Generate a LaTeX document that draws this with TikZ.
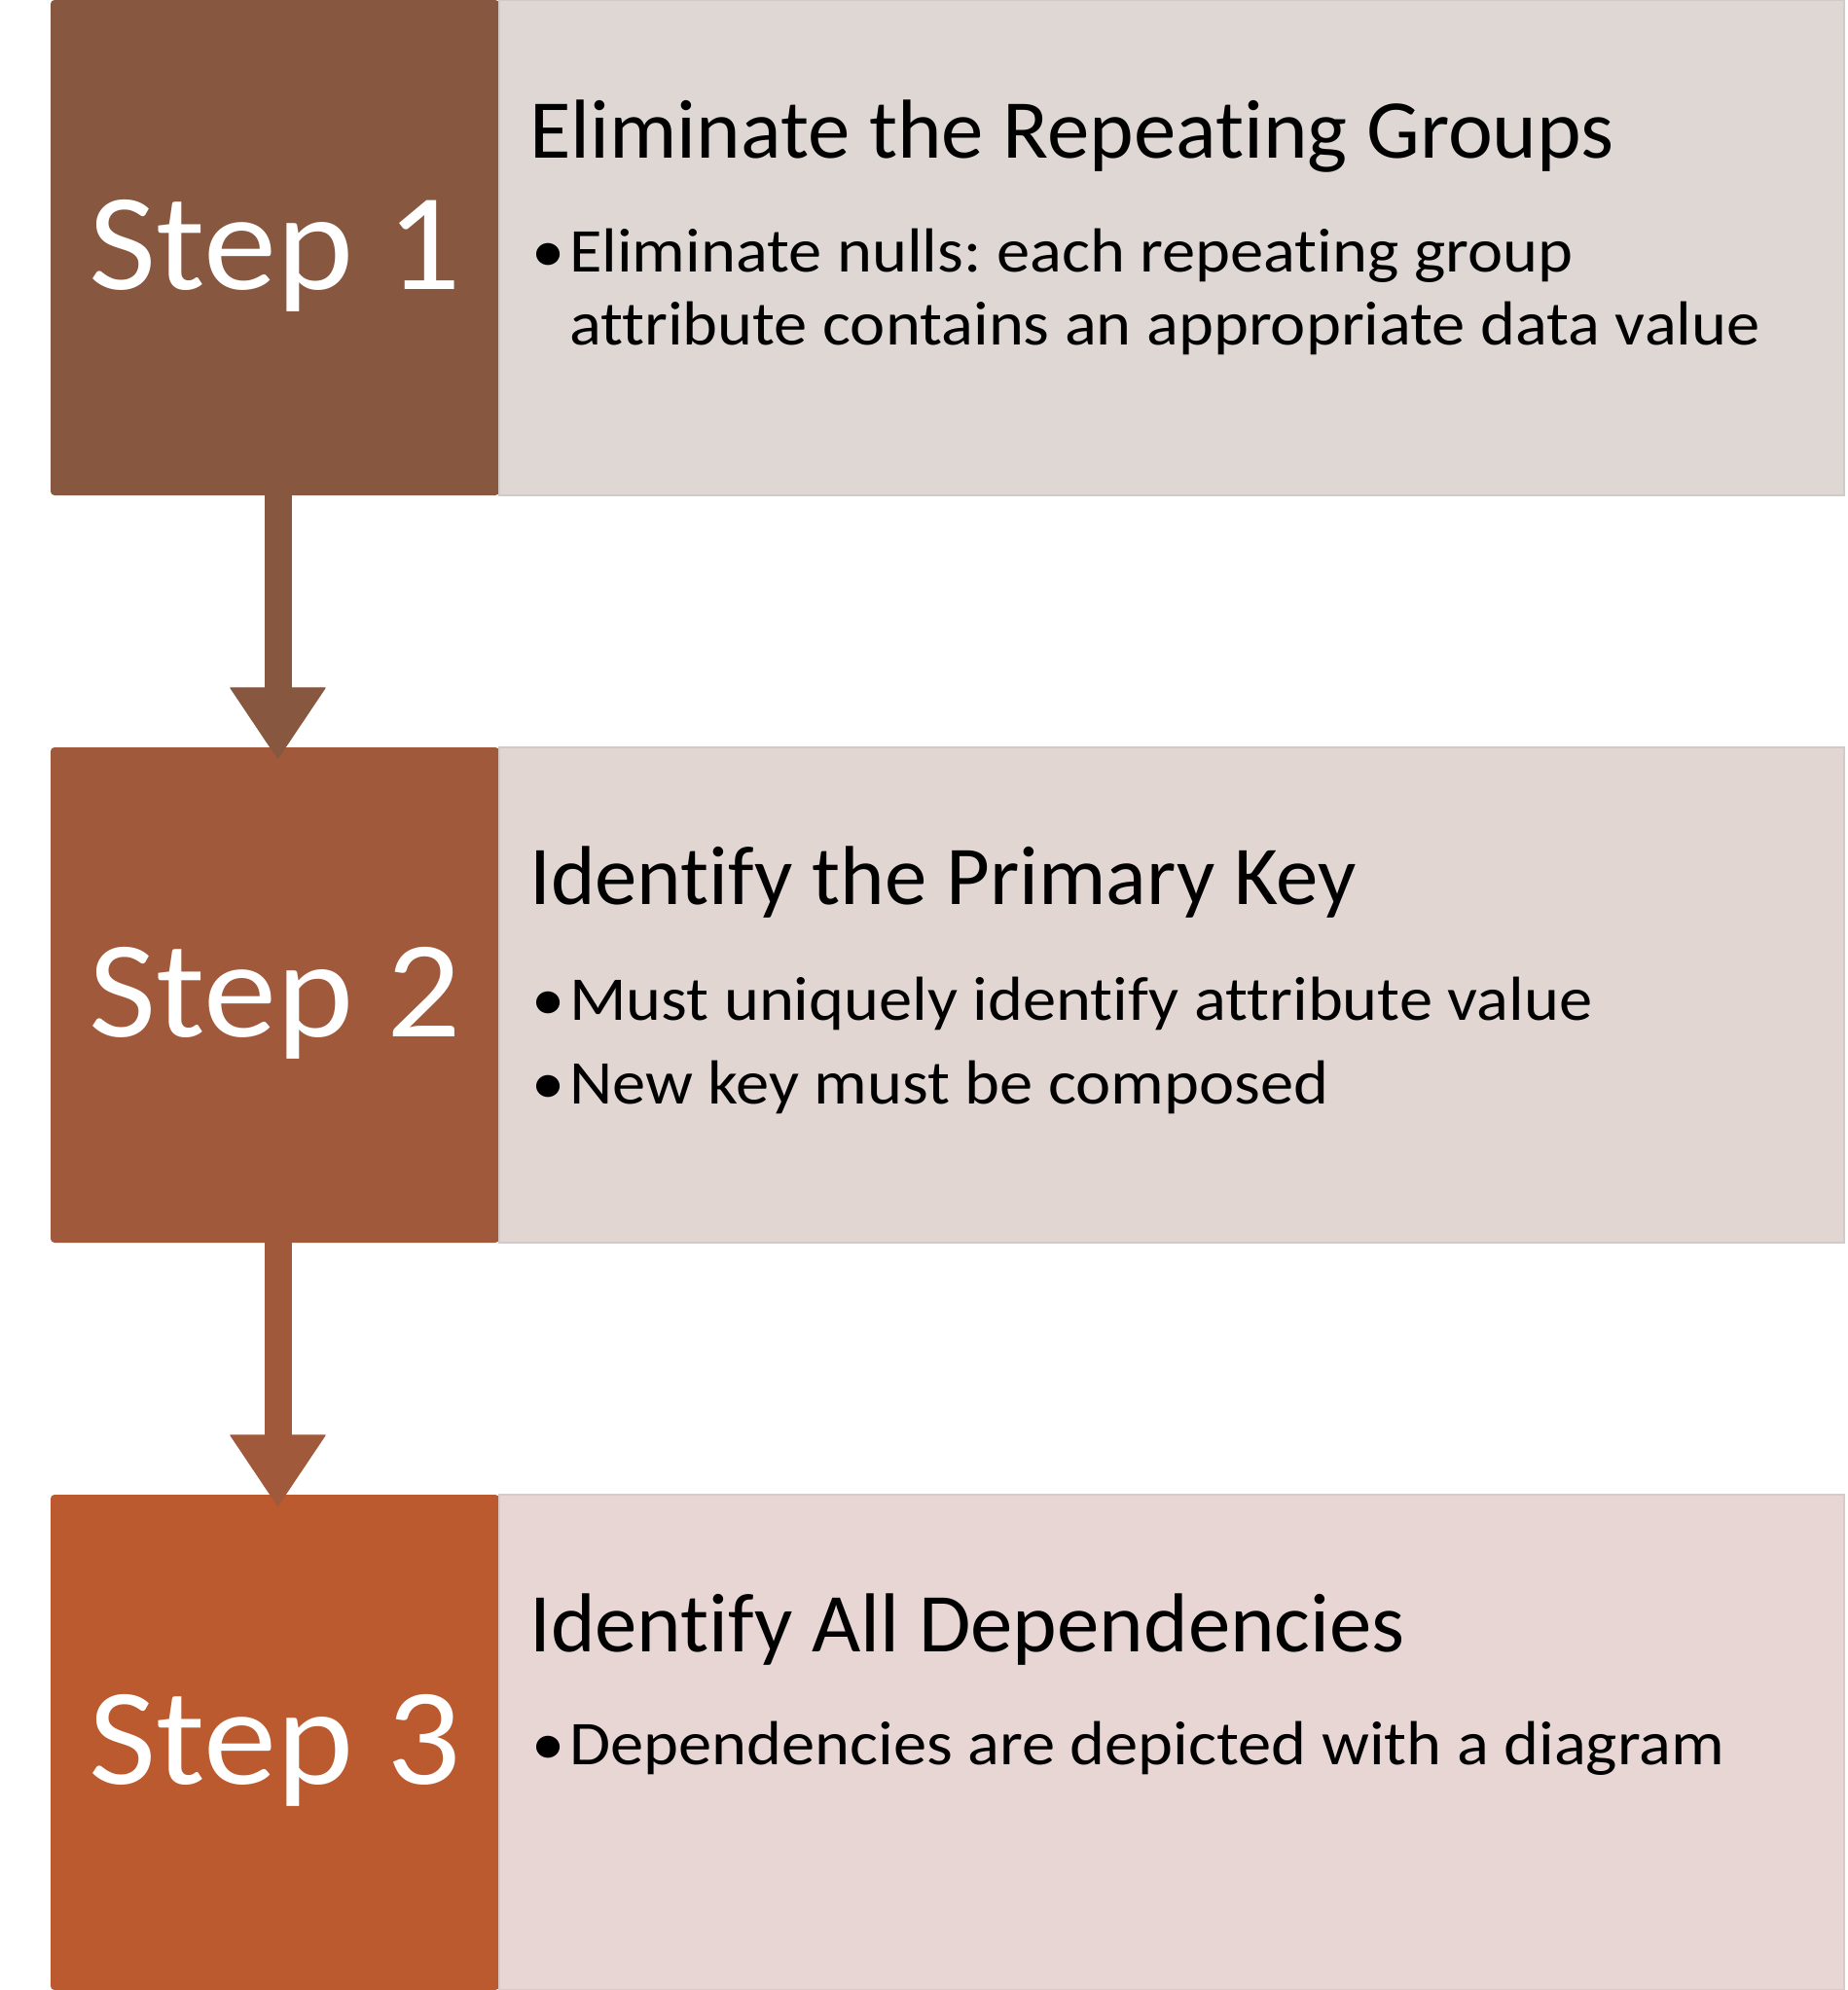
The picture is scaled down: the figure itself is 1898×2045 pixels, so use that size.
\documentclass[tikz,border=0pt]{standalone}
\usepackage{fontspec}
\setmainfont[Ligatures=NoCommon]{Carlito}
\newfontfamily\stepfont[Ligatures=NoCommon,FakeStretch=1.06]{Carlito}
\newfontfamily\titlefont[Ligatures=NoCommon,FakeStretch=1.01]{Carlito}
\newfontfamily\bulletfont[Ligatures=NoCommon,FakeStretch=1.07]{Carlito}
\usetikzlibrary{arrows.meta,calc}
\definecolor{stepA}{HTML}{87573F}
\definecolor{stepB}{HTML}{A0593A}
\definecolor{stepC}{HTML}{BB5A2F}
\definecolor{panelA}{HTML}{DED7D4}
\definecolor{panelB}{HTML}{E2D6D3}
\definecolor{panelC}{HTML}{E8D6D4}
\tikzset{
  stepbox/.style={rectangle, rounded corners=4pt, minimum width=461pt, minimum height=509pt, inner sep=0pt, outer sep=0pt},
  panelbox/.style={rectangle, minimum width=1382pt, minimum height=509pt, inner sep=0pt, outer sep=0pt, line width=1.5pt},
  steptext/.style={anchor=base, text=white, inner sep=0pt, font=\stepfont\fontsize{142}{170}\selectfont},
  titletext/.style={anchor=base west, inner sep=0pt, font=\titlefont\fontsize{86}{103}\selectfont},
  bullettext/.style={anchor=base west, inner sep=0pt, font=\bulletfont\frenchspacing\fontsize{64}{77}\selectfont},
  flowarrow/.style={line width=28pt, -{Triangle[width=99pt,length=74pt,line width=1pt,round]}}
}
\begin{document}
\begin{tikzpicture}[x=1pt,y=-1pt]
\useasboundingbox (0,0) rectangle (1898,2045);
% row 1
\node[stepbox, fill=stepA] (s1) at (282.5,254.5) {};
\node[panelbox, fill=panelA, draw=panelA!94!black] (p1) at (1204,254.5) {};
\node[steptext] (t1) at ($(s1.center)+(0,42.5)$) {Step 1};
\node[titletext] (h1) at (544,162) {Eliminate the Repeating Groups};
\node[bullettext] (b1d) at (546,279) {•};
\node[bullettext] (b1a) at (585,279) {Eliminate nulls: each repeating group};
\node[bullettext] (b1b) at (585,354) {attribute contains an appropriate data value};
% row 2
\node[stepbox, fill=stepB] (s2) at (282.5,1022.5) {};
\node[panelbox, fill=panelB, draw=panelB!94!black] (p2) at (1204,1022.5) {};
\node[steptext] (t2) at ($(s2.center)+(0,42.5)$) {Step 2};
\node[titletext] (h2) at (544,929) {Identify the Primary Key};
\node[bullettext] (b2d) at (546,1048) {•};
\node[bullettext] (b2a) at (585,1048) {Must uniquely identify attribute value};
\node[bullettext] (b2e) at (546,1134) {•};
\node[bullettext] (b2b) at (585,1134) {New key must be composed};
% row 3
\node[stepbox, fill=stepC] (s3) at (282.5,1790.5) {};
\node[panelbox, fill=panelC, draw=panelC!94!black] (p3) at (1204,1790.5) {};
\node[steptext] (t3) at ($(s3.center)+(0,42.5)$) {Step 3};
\node[titletext] (h3) at (544,1697) {Identify All Dependencies};
\node[bullettext] (b3d) at (546,1813) {•};
\node[bullettext] (b3a) at (585,1813) {Dependencies are depicted with a diagram};
% arrows
\draw[flowarrow, draw=stepA] ([xshift=3pt]s1.south) -- ([xshift=3pt,yshift=-12pt]s2.north);
\draw[flowarrow, draw=stepB] ([xshift=3pt]s2.south) -- ([xshift=3pt,yshift=-12pt]s3.north);
\end{tikzpicture}
\end{document}
